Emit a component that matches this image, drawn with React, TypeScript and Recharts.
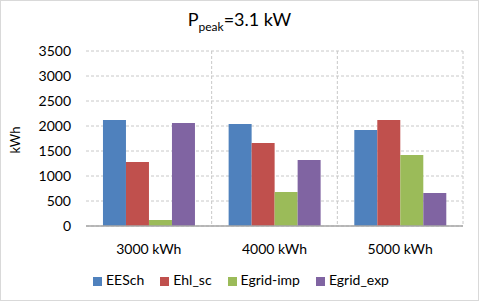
import React from "react";
import {
  BarChart,
  Bar,
  XAxis,
  YAxis,
  CartesianGrid,
  Legend,
} from "recharts";

const categories = ["3000 kWh", "4000 kWh", "5000 kWh"];
const eesch = [2120, 2040, 1920];
const ehlSc = [1280, 1660, 2120];
const egridImp = [120, 680, 1420];
const egridExp = [2060, 1320, 660];
const yTicks = [0, 500, 1000, 1500, 2000, 2500, 3000, 3500];

const data = categories.map((c, i) => ({
  name: c,
  EESch: eesch[i],
  Ehl_sc: ehlSc[i],
  "Egrid-imp": egridImp[i],
  Egrid_exp: egridExp[i],
}));

const FONT = "Lato, 'Noto Sans', sans-serif";

export default function App() {
  return (
    <div
      style={{
        position: "absolute",
        left: 0,
        top: 0,
        width: 477,
        height: 299,
        border: "1px solid #d9d9d9",
        background: "#fff",
        fontFamily: FONT,
      }}
    >
      <div
        style={{
          position: "absolute",
          top: 7,
          width: "100%",
          textAlign: "center",
          fontSize: 18,
          color: "#000",
        }}
      >
        P<sub style={{ fontSize: 12 }}>peak</sub>=3.1 kW
      </div>
      <div
        style={{
          position: "absolute",
          left: 14,
          top: 139,
          transform: "translate(-50%, -50%) rotate(-90deg)",
          fontSize: 13,
          color: "#000",
        }}
      >
        kWh
      </div>
      <BarChart
        width={477}
        height={299}
        data={data}
        margin={{ top: 50, right: 15, left: 0, bottom: 12 }}
        barGap={0}
        barCategoryGap="13.5%"
        style={{ position: "absolute", left: 0, top: 0 }}
      >
        <CartesianGrid
          stroke="#c8c8c8"
          strokeDasharray="3 2"
          verticalCoordinatesGenerator={({ offset }: any) =>
            [1, 2, 3].map((i) => offset.left + (offset.width * i) / categories.length)
          }
        />
        <XAxis
          dataKey="name"
          tickLine={false}
          axisLine={{ stroke: "#a6a6a6", strokeWidth: 1.5 }}
          tick={{ fontSize: 14, fill: "#000", fontFamily: FONT }}
          tickMargin={12}
          height={45}
        />
        <YAxis
          domain={[0, 3500]}
          ticks={yTicks}
          tickLine={false}
          axisLine={false}
          tickSize={0}
          tickMargin={15}
          width={85}
          tick={{ fontSize: 14, fill: "#000", fontFamily: FONT }}
        />
        <Legend
          iconType="square"
          iconSize={9}
          itemSorter={null as any}
          wrapperStyle={{ fontSize: 14, color: "#000", fontFamily: FONT, paddingLeft: 17 }}
          formatter={(v: string) => <span style={{ color: "#000", marginRight: 6 }}>{v}</span>}
        />
        <Bar dataKey="EESch" fill="#4F81BD" isAnimationActive={false} />
        <Bar dataKey="Ehl_sc" fill="#C0504D" isAnimationActive={false} />
        <Bar dataKey="Egrid-imp" fill="#9BBB59" isAnimationActive={false} />
        <Bar dataKey="Egrid_exp" fill="#8064A2" isAnimationActive={false} />
      </BarChart>
    </div>
  );
}
